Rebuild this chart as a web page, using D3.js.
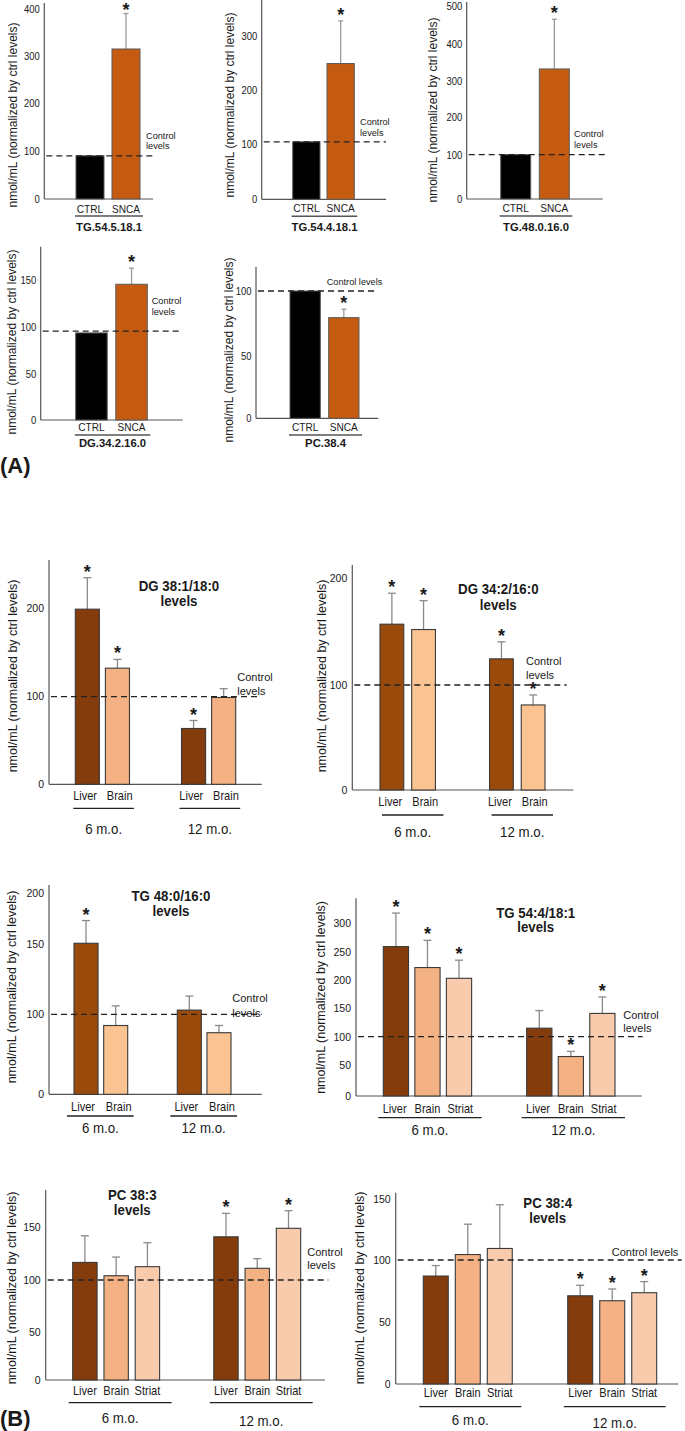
<!DOCTYPE html>
<html>
<head>
<meta charset="utf-8">
<script src="https://cdn.jsdelivr.net/npm/d3@7"></script>
<style>
  body { margin: 0; background: #fff; }
  svg { display: block; }
  text { font-family: "Liberation Sans", Arial, sans-serif; fill: #1a1a1a; }
</style>
</head>
<body>
<div id="chart"></div>
<script>
// ---- Panel A: CTRL vs SNCA, one lipid per panel ----
var groupsA = ["CTRL", "SNCA"];
var lipidsA = ["TG.54.5.18.1", "TG.54.4.18.1", "TG.48.0.16.0", "DG.34.2.16.0", "PC.38.4"];
var meanA = [[90, 315], [104, 249], [101, 332], [94, 145.5], [100, 79.5]];
var semA = [[0, 76], [0, 79], [0, 133], [0, 17], [0, 6.5]];
var starA = [[0, 1], [0, 1], [0, 1], [0, 1], [0, 1]];
var controlA = [90, 104, 101, 96, 100];
var ticksA = [[0, 100, 200, 300, 400], [0, 100, 200, 300], [0, 100, 200, 300, 400, 500], [0, 50, 100, 150], [0, 50, 100]];

// ---- Panel B: tissue x age, one lipid per panel ----
var tissues = ["Liver", "Brain", "Striat"];
var ages = ["6 m.o.", "12 m.o."];
var lipidsB = ["DG 38:1/18:0", "DG 34:2/16:0", "TG 48:0/16:0", "TG 54:4/18:1", "PC 38:3", "PC 38:4"];
var tissueCount = [2, 2, 2, 3, 3, 3];
// meanB[panel][age][tissue]
var meanB = [
    [[199, 131.5], [63, 98]],
    [[157, 152], [124.5, 81]],
    [[151, 86], [103, 77]],
    [[259, 222, 203], [115, 65, 141]],
    [[116.5, 104, 112.5], [140.5, 111, 148.5]],
    [[87, 104.5, 109.5], [71, 67, 73.5]]
];
var semB = [
    [[36, 10], [9, 10]],
    [[29, 27], [16, 9.5]],
    [[22, 20], [10, 9]],
    [[59, 48, 32], [31, 9, 29]],
    [[25, 17.5, 22.5], [22, 9, 16.5]],
    [[8.5, 25, 36], [8.5, 9.5, 9]]
];
var starB = [
    [[1, 1], [1, 0]],
    [[1, 1], [1, 1]],
    [[1, 0], [0, 0]],
    [[1, 1, 1], [0, 1, 1]],
    [[0, 0, 0], [1, 0, 1]],
    [[0, 0, 0], [1, 1, 1]]
];
var controlB = [99, 100, 100, 100, 100, 100];
var ticksB = [[0, 100, 200], [0, 100, 200], [0, 100, 150, 200], [0, 50, 100, 150, 200, 250, 300], [0, 50, 100, 150], [0, 50, 100, 150]];

// ---- Layout (pixel placement only) ----
var layoutA = [
    { ax: 44.3, top: 3, xEnd: 153, dashEnd: 153, tickY: [199, 151, 103.3, 56, 9.3], bars: [76, 140], pad: 0.222, ylab: [13, 115], ctl: [146, 136, 146], dy: [10, 17, 28] },
    { ax: 261.7, top: 0, xEnd: 386, dashEnd: 386, tickY: [199.3, 144, 90, 36], bars: [292.7, 354.3], pad: 0.204, ylab: [230, 105], ctl: [360, 122, 133], dy: [9, 17, 28] },
    { ax: 466.7, top: 2, xEnd: 602.7, dashEnd: 605, tickY: [199, 155, 117.3, 80.7, 44, 6], bars: [500.7, 569.3], pad: 0.223, ylab: [433, 110], ctl: [574, 134, 145.3], dy: [9.3, 17, 28] },
    { ax: 40.7, top: 246.7, xEnd: 182.7, dashEnd: 182.7, tickY: [420, 374, 327.3, 280], bars: [75.7, 147.3], pad: 0.214, ylab: [12, 342], ctl: [151.7, 301, 311.7], dy: [6.7, 15, 22.7] },
    { ax: 256, top: 266.7, xEnd: 378.3, dashEnd: 376.7, tickY: [418.3, 356, 291], bars: [290, 359], pad: 0.215, ylab: [229, 350], ctl: [326.7, 281.7], dy: [8.4, 16.7, 25] }
];
var layoutB = [
    { ax: 49, top: 560, xEnd: 261.7, dashEnd: 261, tickY: [784.3, 695.7, 608.3], bars: [75.3, 235.7], outer: 0.49, inner: 0.2, spread: 1.15, ylab: [13, 676], title: [179, 586.7, 601], ctl: [237.3, 676.7, 690.7], dy: [11.4, 24, 45, 45], ul: [-2, 4.5] },
    { ax: 352.3, top: 565, xEnd: 573.3, dashEnd: 566.7, tickY: [790, 685, 578.3], bars: [380, 545], outer: 0.494, inner: 0.25, spread: 1.1, ylab: [322, 676], title: [498.3, 589, 605.7], ctl: [526, 661, 675], dy: [11.7, 25, 42, 42], ul: [2, 8] },
    { ax: 49, top: 885, xEnd: 261.7, dashEnd: 261.7, tickY: [1094.3, 1014.3, 944.3, 892.7], bars: [74, 231], outer: 0.48, inner: 0.19, spread: 1.2, ylab: [12, 987], title: [171, 896, 911], ctl: [232.3, 998.3, 1012.7], dy: [12.4, 21.7, 34, 34], ul: [-7, 6] },
    { ax: 356, top: 898.3, xEnd: 641.7, dashEnd: 642.7, tickY: [1096, 1065, 1036.7, 1008.3, 980, 951.7, 923.3], bars: [383.3, 615], outer: 0.384, inner: 0.2, spread: 1.04, ylab: [320.7, 997.5], title: [535.7, 913.3, 927.7], ctl: [623.3, 1015.3, 1027.7], dy: [13.3, 21.7, 34.7, 34.7], ul: [-5, 10] },
    { ax: 45.7, top: 1190, xEnd: 325, dashEnd: 328.3, tickY: [1380, 1332.3, 1280, 1226.7], bars: [72.7, 300.7], outer: 0.384, inner: 0.22, spread: 1, ylab: [12, 1288], title: [132.3, 1195, 1210], ctl: [307.3, 1251.7, 1265], dy: [10.7, 22.7, 38, 41.5], ul: [-4, 12] },
    { ax: 395.7, top: 1192.7, xEnd: 678.3, dashEnd: 681.7, tickY: [1384, 1321.7, 1260, 1199.3], bars: [423.3, 656.7], outer: 0.384, inner: 0.22, spread: 1, ylab: [360, 1288], title: [547.7, 1203.3, 1218.3], ctl: [611.7, 1252.3], dy: [9.3, 22.7, 36.5, 39.5], ul: [-4, 9] }
];

// Colours
var fillA = ["#000000", "#C55A11"];
var fillB = [
    ["#843C0C", "#F4B183"],
    ["#9A4A0A", "#F9C392"],
    ["#9A4A0A", "#F9C392"],
    ["#843C0C", "#F4B183", "#F8CBAD"],
    ["#843C0C", "#F4B183", "#F8CBAD"],
    ["#843C0C", "#F4B183", "#F8CBAD"]
];
var yLabelText = "nmol/mL (normalized by ctrl levels)";

var W = 685, H = 1431;
var svg = d3.select("#chart").append("svg")
    .attr("width", W)
    .attr("height", H);
svg.append("rect").attr("width", W).attr("height", H).attr("fill", "#fff");

// text helper: centred vertically, optional horizontal squeeze
function txt(parent, x, y, s, size, o) {
    o = o || {};
    return parent.append("text")
        .attr("transform", "translate(" + x + "," + y + ")" + (o.rot ? " rotate(" + o.rot + ")" : "") + " scale(" + (o.sx || 1) + ",1)")
        .attr("text-anchor", o.anchor || "middle")
        .attr("dominant-baseline", "central")
        .style("font-size", size + "px")
        .style("font-weight", o.bold ? "bold" : "normal")
        .text(s);
}

// shared axis frame: y axis line, tick labels, x axis line, y label
function frame(g, y, ticks, lay, o) {
    g.append("line")
        .attr("x1", lay.ax).attr("x2", lay.ax)
        .attr("y1", lay.top).attr("y2", y(0))
        .attr("stroke", "#555").attr("stroke-width", 1.2);
    g.append("line")
        .attr("x1", lay.ax).attr("x2", lay.xEnd)
        .attr("y1", y(0)).attr("y2", y(0))
        .attr("stroke", "#555").attr("stroke-width", 1.2);

    var axG = g.append("g")
        .attr("transform", "translate(" + lay.ax + ",0)")
        .call(d3.axisLeft(y).tickValues(ticks).tickSize(0).tickPadding(5));
    axG.select(".domain").remove();
    axG.attr("font-family", null).attr("font-size", null);
    axG.selectAll("text")
        .attr("transform", "scale(" + o.tickSx + ",1)")
        .style("font-size", o.tickFs + "px");

    txt(g, lay.ylab[0], lay.ylab[1], yLabelText, o.ylabFs, { rot: -90 });
}

function controlLine(g, y, value, lay, fs) {
    g.append("line")
        .attr("x1", lay.ax + 2).attr("x2", lay.dashEnd)
        .attr("y1", y(value)).attr("y2", y(value))
        .attr("stroke", "#222")
        .attr("stroke-width", 1.3)
        .attr("stroke-dasharray", "6,4");
    if (lay.ctl.length === 2) {
        txt(g, lay.ctl[0], lay.ctl[1], "Control levels", fs, { anchor: "start" });
    } else {
        txt(g, lay.ctl[0], lay.ctl[1], "Control", fs, { anchor: "start" });
        txt(g, lay.ctl[0], lay.ctl[2], "levels", fs, { anchor: "start" });
    }
}

function errorBar(g, cx, y, mean, sem, color, capHalf) {
    if (!sem) return;
    g.append("line")
        .attr("x1", cx).attr("x2", cx)
        .attr("y1", y(mean)).attr("y2", y(mean + sem))
        .attr("stroke", color).attr("stroke-width", 1.3);
    g.append("line")
        .attr("x1", cx - capHalf).attr("x2", cx + capHalf)
        .attr("y1", y(mean + sem)).attr("y2", y(mean + sem))
        .attr("stroke", color).attr("stroke-width", 1.3);
}

// significance star, kept inside the picture at the very top
function star(g, cx, yTop) {
    g.append("text")
        .attr("x", cx)
        .attr("y", Math.max(yTop, 16))
        .attr("text-anchor", "middle")
        .style("font-size", "18px")
        .style("font-weight", "bold")
        .text("*");
}

// ---- Draw panel A ----
lipidsA.forEach(function(lipid, p) {
    var lay = layoutA[p];
    var g = svg.append("g").attr("class", "panel-a");

    var y = d3.scaleLinear().domain(ticksA[p]).range(lay.tickY);
    var x = d3.scaleBand().domain(groupsA).range(lay.bars)
        .paddingInner(lay.pad).paddingOuter(0);

    frame(g, y, ticksA[p], lay, { tickSx: 0.9, tickFs: 10.5, ylabFs: 12 });

    groupsA.forEach(function(grp, i) {
        var cx = x(grp) + x.bandwidth() / 2;
        errorBar(g, cx, y, meanA[p][i], semA[p][i], "#9a9a9a", 2.5);
        g.append("rect")
            .attr("x", x(grp))
            .attr("y", y(meanA[p][i]))
            .attr("width", x.bandwidth())
            .attr("height", y(0) - y(meanA[p][i]))
            .attr("fill", fillA[i])
            .attr("stroke", "#5a5a5a")
            .attr("stroke-width", 1);
        if (starA[p][i]) star(g, cx, y(meanA[p][i] + semA[p][i]));
        txt(g, cx, y(0) + lay.dy[0], grp, 11, { sx: 0.92 });
    });

    controlLine(g, y, controlA[p], lay, 9.2);

    var y0 = y(0);
    g.append("line")
        .attr("x1", lay.bars[0] - 1).attr("x2", lay.bars[1] + 3)
        .attr("y1", y0 + lay.dy[1]).attr("y2", y0 + lay.dy[1])
        .attr("stroke", "#555").attr("stroke-width", 1.6);
    txt(g, (lay.bars[0] + lay.bars[1]) / 2 + 1, y0 + lay.dy[2], lipid, 11.3, { bold: true });
});

// ---- Draw panel B ----
lipidsB.forEach(function(lipid, p) {
    var lay = layoutB[p];
    var g = svg.append("g").attr("class", "panel-b");
    var tis = tissues.slice(0, tissueCount[p]);

    var y = d3.scaleLinear().domain(ticksB[p]).range(lay.tickY);
    var xAge = d3.scaleBand().domain(ages).range(lay.bars)
        .paddingInner(lay.outer).paddingOuter(0);
    var xTis = d3.scaleBand().domain(tis).range([0, xAge.bandwidth()])
        .paddingInner(lay.inner).paddingOuter(0);

    frame(g, y, ticksB[p], lay, { tickSx: 1, tickFs: 10.5, ylabFs: 12.5 });

    var y0 = y(0);
    ages.forEach(function(age, a) {
        var mid = xAge(age) + xAge.bandwidth() / 2;
        tis.forEach(function(t, i) {
            var bx = xAge(age) + xTis(t);
            var cx = bx + xTis.bandwidth() / 2;
            var m = meanB[p][a][i], s = semB[p][a][i];
            errorBar(g, cx, y, m, s, "#8a8a8a", 4);
            g.append("rect")
                .attr("x", bx)
                .attr("y", y(m))
                .attr("width", xTis.bandwidth())
                .attr("height", y0 - y(m))
                .attr("fill", fillB[p][i])
                .attr("stroke", "#3a3a3a")
                .attr("stroke-width", 1.1);
            if (starB[p][a][i]) star(g, cx, y(m + s));
            // tick labels sit a little wider apart than the bars
            txt(g, mid + (cx - mid) * lay.spread, y0 + lay.dy[0], t, 12, { sx: 0.92 });
        });

        var u0 = xAge(age) + lay.ul[0], u1 = xAge(age) + xAge.bandwidth() + lay.ul[1];
        g.append("line")
            .attr("x1", u0).attr("x2", u1)
            .attr("y1", y0 + lay.dy[1]).attr("y2", y0 + lay.dy[1])
            .attr("stroke", "#222").attr("stroke-width", 1.3);
        txt(g, (u0 + u1) / 2, y0 + lay.dy[2 + a], age, 14, { sx: 0.95 });
    });

    controlLine(g, y, controlB[p], lay, 11);

    txt(g, lay.title[0], lay.title[1], lipid, 14, { bold: true, sx: 0.95 });
    txt(g, lay.title[0], lay.title[2], "levels", 14, { bold: true, sx: 0.95 });
});

// ---- Figure part labels ----
txt(svg, 0, 465, "(A)", 22, { bold: true, anchor: "start" });
txt(svg, 0, 1418, "(B)", 22, { bold: true, anchor: "start" });
</script>
</body>
</html>
